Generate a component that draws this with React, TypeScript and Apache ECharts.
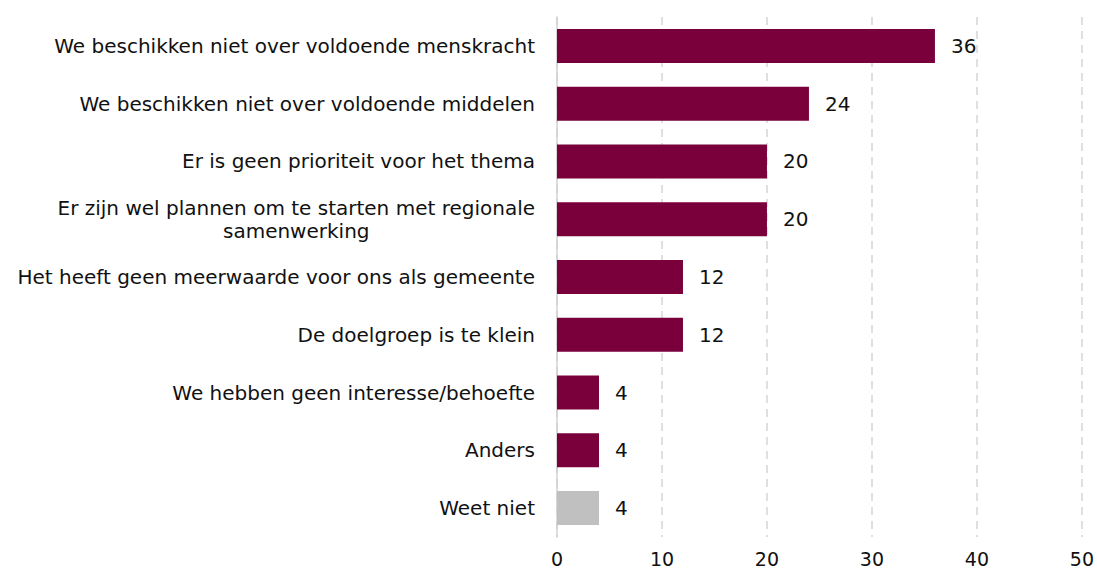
import React, { useEffect, useRef } from "react";
import * as echarts from "echarts";

const categories = [
  "We beschikken niet over voldoende menskracht",
  "We beschikken niet over voldoende middelen",
  "Er is geen prioriteit voor het thema",
  "Er zijn wel plannen om te starten met regionale\nsamenwerking",
  "Het heeft geen meerwaarde voor ons als gemeente",
  "De doelgroep is te klein",
  "We hebben geen interesse/behoefte",
  "Anders",
  "Weet niet",
];
const values = [36, 24, 20, 20, 12, 12, 4, 4, 4];
const barColors = ["#7a003c", "#7a003c", "#7a003c", "#7a003c", "#7a003c", "#7a003c", "#7a003c", "#7a003c", "#c0c0c0"];

export default function App() {
  const ref = useRef<HTMLDivElement>(null);
  useEffect(() => {
    if (!ref.current) return;
    const chart = echarts.init(ref.current, null, { renderer: "svg" });
    const font = "'DejaVu Sans', sans-serif";
    const fs = 20;
    chart.setOption({
      animation: false,
      grid: { left: 557, right: 14, top: 17, bottom: 35, containLabel: false },
      xAxis: {
        type: "value",
        min: 0,
        max: 50,
        interval: 10,
        axisLine: { show: false },
        axisTick: { show: false },
        axisLabel: { fontSize: 19, color: "#111", fontFamily: font, margin: 12, lineHeight: 20 },
        splitLine: { show: true, lineStyle: { type: [8, 6], color: "#d6d6d6", width: 1.5 } },
      },
      yAxis: {
        type: "category",
        inverse: true,
        data: categories,
        axisLine: { show: true, lineStyle: { color: "#d0d0d0", width: 1.5 } },
        axisTick: { show: false },
        axisLabel: {
          fontSize: fs,
          color: "#111",
          fontFamily: font,
          margin: 22,
          lineHeight: 23,
          formatter: (v: string) => {
            if (v.indexOf("\n") >= 0) {
              return v.split("\n").map((s) => "{c|" + s + "}").join("\n");
            }
            return v;
          },
          rich: {
            c: { align: "center", fontSize: fs, color: "#111", fontFamily: font, lineHeight: 23 },
          },
        },
      },
      series: [
        {
          type: "bar",
          data: values.map((v, i) => ({ value: v, itemStyle: { color: barColors[i] } })),
          barWidth: 34,
          label: {
            show: true,
            position: "right",
            distance: 16,
            fontSize: fs,
            color: "#111",
            fontFamily: font,
          },
        },
      ],
    });
    return () => chart.dispose();
  }, []);
  return <div ref={ref} style={{ width: 1097, height: 572, position: "absolute", left: 0, top: 0 }} />;
}
